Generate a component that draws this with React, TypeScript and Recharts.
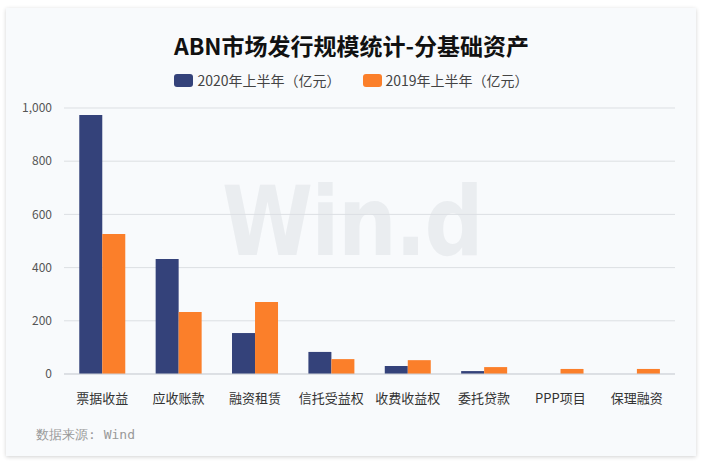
import React from "react";
import { BarChart, Bar, XAxis, YAxis, CartesianGrid } from "recharts";

const categories = ["票据收益", "应收账款", "融资租赁", "信托受益权", "收费收益权", "委托贷款", "PPP项目", "保理融资"];
const values2020 = [974, 432, 154, 83, 30, 11, 0, 0];
const values2019 = [526, 233, 271, 56, 52, 26, 19, 19];
const yTicks = [0, 200, 400, 600, 800, 1000];

const SERIES = [
  { key: "y2020", name: "2020年上半年（亿元）", color: "#34427a" },
  { key: "y2019", name: "2019年上半年（亿元）", color: "#fb7f2a" },
];

const data = categories.map((name, i) => ({ name, y2020: values2020[i], y2019: values2019[i] }));

const FONT = "'Noto Sans CJK SC', 'Noto Sans', sans-serif";

export default function App() {
  return (
    <div style={{ position: "absolute", left: 0, top: 0, width: 703, height: 466, background: "#fff", overflow: "hidden" }}>
      <div
        style={{
          position: "absolute", left: 6, top: 8, width: 690, height: 448,
          background: "#f8fafc", boxShadow: "0 1px 4px rgba(0,0,0,0.18)",
        }}
      />
      {/* watermark */}
      <div
        style={{
          position: "absolute", left: 222, top: 166, fontFamily: "'DejaVu Sans', sans-serif", fontWeight: "bold",
          fontSize: 96, color: "#eaedf0", letterSpacing: -2, transform: "scaleX(0.86)", transformOrigin: "left top",
        }}
      >
        Win.d
      </div>
      <div
        style={{
          position: "absolute", left: 0, top: 28, width: 703, textAlign: "center", fontFamily: FONT,
          fontWeight: "bold", fontSize: 23, color: "#111",
        }}
      >
        ABN市场发行规模统计-分基础资产
      </div>
      <div
        style={{
          position: "absolute", left: 0, top: 70, width: 703, display: "flex", justifyContent: "center", gap: 22,
          fontFamily: FONT, fontSize: 14, color: "#444",
        }}
      >
        {SERIES.map((s) => (
          <div key={s.key} style={{ display: "flex", alignItems: "center" }}>
            <span style={{ width: 19, height: 13, background: s.color, borderRadius: 3, marginRight: 4, display: "inline-block" }} />
            <span>{s.name}</span>
          </div>
        ))}
      </div>
      <div style={{ position: "absolute", left: 0, top: 0 }}>
        <BarChart width={703} height={466} data={data} margin={{ top: 108, right: 28, bottom: 62, left: 7 }} barCategoryGap="20%" barGap={0}>
          <CartesianGrid vertical={false} stroke="#dcdfe3" />
          <XAxis
            dataKey="name"
            height={30}
            tickLine={false}
            axisLine={{ stroke: "#cfd3d8" }}
            interval={0}
            tickMargin={14}
            tick={{ fontSize: 13, fill: "#333", fontFamily: FONT }}
          />
          <YAxis
            domain={[0, 1000]}
            ticks={yTicks}
            width={57}
            tickLine={false}
            axisLine={false}
            tickMargin={6}
            tickFormatter={(v: number) => v.toLocaleString("en-US")}
            tick={{ fontSize: 12, fill: "#555", fontFamily: FONT }}
          />
          {SERIES.map((s) => (
            <Bar key={s.key} dataKey={s.key} name={s.name} fill={s.color} isAnimationActive={false} />
          ))}
        </BarChart>
      </div>
      <div style={{ position: "absolute", left: 36, top: 426, fontFamily: "'DejaVu Sans Mono', monospace", fontSize: 13, color: "#999" }}>
        数据来源: Wind
      </div>
    </div>
  );
}
